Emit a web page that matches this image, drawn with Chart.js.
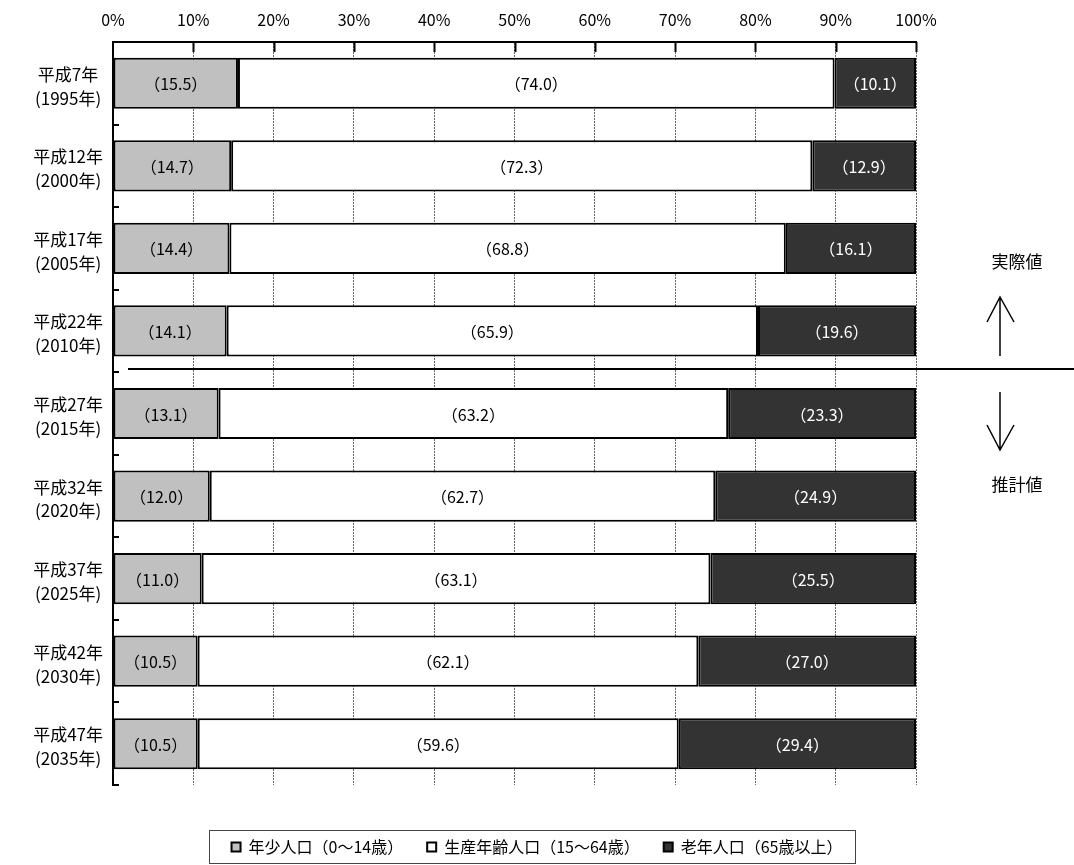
<!DOCTYPE html>
<html lang="ja">
<head>
<meta charset="utf-8">
<title>年齢3区分別人口構成比の推移</title>
<script src="https://cdn.jsdelivr.net/npm/chart.js@4.4.1/dist/chart.umd.min.js"></script>
<style>
  html, body { margin: 0; padding: 0; background: #fff; }
  #wrap { width: 1074px; height: 865px; }
</style>
</head>
<body>
<div id="wrap"><canvas id="ageChart" width="1074" height="865"></canvas></div>
<script>
// categories (two-line labels)
const yearLabels = [
  ['平成7年', '(1995年)'],
  ['平成12年', '(2000年)'],
  ['平成17年', '(2005年)'],
  ['平成22年', '(2010年)'],
  ['平成27年', '(2015年)'],
  ['平成32年', '(2020年)'],
  ['平成37年', '(2025年)'],
  ['平成42年', '(2030年)'],
  ['平成47年', '(2035年)']
];

// shares in % as printed on the bars
const youngShare   = [15.5, 14.7, 14.4, 14.1, 13.1, 12.0, 11.0, 10.5, 10.5];
const workingShare = [74.0, 72.3, 68.8, 65.9, 63.2, 62.7, 63.1, 62.1, 59.6];
const elderlyShare = [10.1, 12.9, 16.1, 19.6, 23.3, 24.9, 25.5, 27.0, 29.4];

const seriesNames = ['年少人口（0～14歳）', '生産年齢人口（15～64歳）', '老年人口（65歳以上）'];
const percentTicks = [0, 10, 20, 30, 40, 50, 60, 70, 80, 90, 100];
const sideNotes = ['実際値', '推計値'];
const actualCount = 4; // first 4 rows are actual values, the rest projections

const FONT = '"Noto Sans CJK JP", "Noto Sans", sans-serif';
Chart.defaults.font.family = FONT;
Chart.defaults.color = '#000';

// 100% stacked: each row is scaled so the three parts fill the bar
const rowTotals = youngShare.map((v, i) => v + workingShare[i] + elderlyShare[i]);
const toPercent = arr => arr.map((v, i) => v / rowTotals[i] * 100);

const datasets = [
  { label: seriesNames[0], data: toPercent(youngShare), raw: youngShare, backgroundColor: '#c0c0c0', textColor: '#000' },
  { label: seriesNames[1], data: toPercent(workingShare), raw: workingShare, backgroundColor: '#ffffff', textColor: '#000' },
  { label: seriesNames[2], data: toPercent(elderlyShare), raw: elderlyShare, backgroundColor: '#333333', textColor: '#fff' }
].map(ds => Object.assign(ds, {
  borderColor: '#000',
  borderWidth: 2,
  borderSkipped: false,
  barPercentage: 0.62,
  categoryPercentage: 1
}));

// value labels in the middle of each segment
const segmentLabels = {
  id: 'segmentLabels',
  afterDatasetsDraw(chart) {
    const ctx = chart.ctx;
    ctx.save();
    ctx.font = '16px ' + FONT;
    ctx.textAlign = 'center';
    ctx.textBaseline = 'middle';
    chart.data.datasets.forEach((ds, di) => {
      chart.getDatasetMeta(di).data.forEach((bar, i) => {
        const p = bar.getProps(['x', 'y', 'base'], true);
        ctx.fillStyle = ds.textColor;
        ctx.fillText('（' + ds.raw[i].toFixed(1) + '）', (p.x + p.base) / 2, p.y + 1);
      });
    });
    ctx.restore();
  }
};

// inward tick marks, divider line, arrows and notes, legend frame
const decorations = {
  id: 'decorations',
  afterDraw(chart) {
    const ctx = chart.ctx;
    const area = chart.chartArea;
    const xs = chart.scales.x;
    const band = (area.bottom - area.top) / yearLabels.length;
    ctx.save();
    ctx.strokeStyle = '#000';
    ctx.lineWidth = 2;
    ctx.setLineDash([]);

    // top axis ticks pointing down
    percentTicks.slice(1).forEach(v => {
      const x = Math.round(xs.getPixelForValue(v)) + 0.5;
      ctx.beginPath();
      ctx.moveTo(x, area.top);
      ctx.lineTo(x, area.top + 10);
      ctx.stroke();
    });
    // left axis ticks pointing right
    for (let k = 1; k <= yearLabels.length; k++) {
      const y = Math.round(area.top + k * band);
      ctx.beginPath();
      ctx.moveTo(area.left, y);
      ctx.lineTo(area.left + 6, y);
      ctx.stroke();
    }

    // divider between actual and projected values
    const divY = Math.round(area.top + actualCount * band) - 3;
    ctx.beginPath();
    ctx.moveTo(area.left + 15, divY);
    ctx.lineTo(chart.width, divY);
    ctx.stroke();

    // arrows
    const ax = area.right + 84;
    ctx.lineWidth = 1.5;
    ctx.beginPath();
    ctx.moveTo(ax, divY - 13); ctx.lineTo(ax, divY - 72);
    ctx.moveTo(ax - 13, divY - 47); ctx.lineTo(ax, divY - 72); ctx.lineTo(ax + 14, divY - 47);
    ctx.moveTo(ax, divY + 23); ctx.lineTo(ax, divY + 81);
    ctx.moveTo(ax - 13, divY + 56); ctx.lineTo(ax, divY + 81); ctx.lineTo(ax + 14, divY + 56);
    ctx.stroke();

    ctx.fillStyle = '#000';
    ctx.font = '17px ' + FONT;
    ctx.textAlign = 'center';
    ctx.textBaseline = 'middle';
    ctx.fillText(sideNotes[0], area.right + 101, divY - 107);
    ctx.fillText(sideNotes[1], area.right + 101, divY + 116);

    // frame around the legend
    const boxes = chart.legend.legendHitBoxes;
    if (boxes && boxes.length) {
      const first = boxes[0];
      const last = boxes[boxes.length - 1];
      const left = Math.round(first.left - 23) + 0.5;
      const right = Math.round(last.left + last.width + 13) + 0.5;
      ctx.lineWidth = 1;
      ctx.strokeStyle = '#444';
      ctx.strokeRect(left, 830.5, right - left, 33);
    }
    ctx.restore();
  }
};

new Chart(document.getElementById('ageChart'), {
  type: 'bar',
  data: { labels: yearLabels, datasets: datasets },
  options: {
    indexAxis: 'y',
    responsive: false,
    animation: false,
    devicePixelRatio: 1,
    layout: { padding: 0 },
    plugins: {
      tooltip: { enabled: false },
      legend: {
        position: 'bottom',
        labels: {
          boxWidth: 9,
          boxHeight: 9,
          padding: 24,
          color: '#000',
          font: { size: 16 }
        }
      }
    },
    scales: {
      x: {
        position: 'top',
        stacked: true,
        min: 0,
        max: 100,
        afterBuildTicks(scale) { scale.ticks = percentTicks.map(v => ({ value: v })); },
        ticks: {
          callback: v => v + '%',
          padding: 12,
          color: '#000',
          font: { size: 16 }
        },
        grid: {
          drawTicks: false,
          color: ctx => (ctx.tick && ctx.tick.value === 0) ? 'rgba(0,0,0,0)' : '#666',
          lineWidth: 1
        },
        border: { display: true, color: '#000', width: 2, dash: [2, 1] },
        afterFit(scale) { scale.height = 42; }
      },
      y: {
        stacked: true,
        grid: { display: false },
        border: { display: true, color: '#000', width: 2 },
        ticks: {
          crossAlign: 'center',
          padding: 2,
          labelOffset: 3,
          color: '#000',
          font: { size: 17, lineHeight: 1.4 }
        },
        afterFit(scale) { scale.width = 113; }
      },
      rightGap: {
        type: 'linear',
        position: 'right',
        grid: { display: false },
        border: { display: false },
        ticks: { display: false },
        afterFit(scale) { scale.width = 158; }
      },
      bottomGap: {
        type: 'linear',
        position: 'bottom',
        grid: { display: false },
        border: { display: false },
        ticks: { display: false },
        afterFit(scale) { scale.height = 30; }
      }
    }
  },
  plugins: [segmentLabels, decorations]
});
</script>
</body>
</html>
